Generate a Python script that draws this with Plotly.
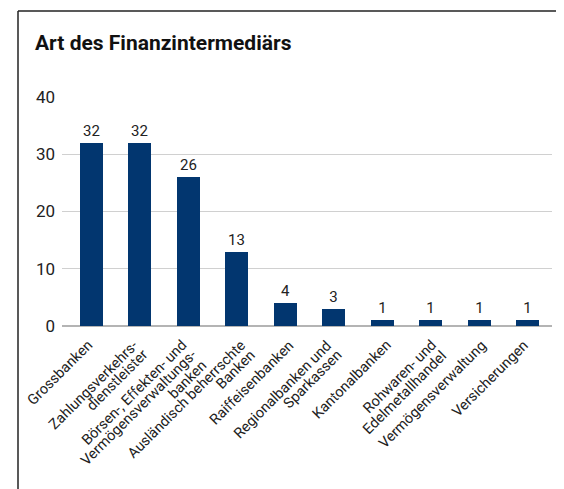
import plotly.graph_objects as go

categories = [
    "Grossbanken",
    "Zahlungsverkehrs-\ndienstleister",
    "Börsen-, Effekten- und\nVermögensverwaltungs-\nbanken",
    "Ausländisch beherrschte\nBanken",
    "Raiffeisenbanken",
    "Regionalbanken und\nSparkassen",
    "Kantonalbanken",
    "Rohwaren- und\nEdelmetallhandel",
    "Vermögensverwaltung",
    "Versicherungen",
]
values = [32, 32, 26, 13, 4, 3, 1, 1, 1, 1]
y_ticks = [0, 10, 20, 30, 40]
title_text = "Art des Finanzintermediärs"

# small horizontal nudges (px) of the rotated category labels, as in the original
label_nudge = [1, -3, -2, 8, 8, -3, 8, 5, 6, 0]

# page has an 8px body margin; figure laid out in its own coordinates
W, H = 556, 481
L, R, T, B = 54, 12, 89, 163
pw, ph = W - L - R, H - T - B

fig = go.Figure(go.Bar(
    x=list(range(len(categories))),
    y=values,
    width=0.47,
    marker=dict(color="#02366f", line=dict(width=0)),
    text=[str(v) for v in values],
    textposition="outside",
    cliponaxis=False,
    textfont=dict(family="Roboto", size=15, color="#222"),
))

annotations = [dict(
    text="<b>" + title_text + "</b>",
    xref="paper", yref="paper",
    x=(25 - L) / pw, y=(H - B - 35) / ph,
    xanchor="left", yanchor="middle",
    showarrow=False,
    font=dict(family="Roboto", size=21, color="#111"),
)]

# rotated category labels, one annotation per text line (right aligned, -45 deg)
step = 9.9
for i, cat in enumerate(categories):
    for k, line in enumerate(cat.split("\n")):
        annotations.append(dict(
            text=line,
            xref="x", yref="paper", x=i, y=0,
            xanchor="right", yanchor="top",
            xshift=7.4 + label_nudge[i] + step * k, yshift=-(8.1 + step * k),
            textangle=-45,
            showarrow=False,
            font=dict(family="Roboto", size=14.5, color="#222"),
        ))

fig.update_layout(
    width=W, height=H,
    margin=dict(l=L, r=R, t=T, b=B, pad=0),
    paper_bgcolor="white", plot_bgcolor="white",
    showlegend=False,
    bargap=0,
    font=dict(family="Roboto", color="#222"),
    xaxis=dict(
        range=[-0.6, 9.5],
        tickvals=list(range(len(categories))),
        showticklabels=False,
        showgrid=False, zeroline=False, showline=False, ticks="",
    ),
    yaxis=dict(
        range=[0, 40],
        tickvals=y_ticks,
        tickfont=dict(family="Roboto", size=17, color="#222"),
        showgrid=True, gridcolor="#d0d0d0", gridwidth=1,
        zeroline=True, zerolinecolor="#b4b4b4", zerolinewidth=1.5,
        ticks="", ticklabelstandoff=6,
    ),
    annotations=annotations,
    shapes=[
        dict(type="line", xref="paper", yref="paper",
             x0=(10 - L) / pw, x1=(W + 5 - L) / pw,
             y0=(H - B - 3) / ph, y1=(H - B - 3) / ph,
             line=dict(color="#222", width=1.5)),
        dict(type="line", xref="paper", yref="paper",
             x0=(10 - L) / pw, x1=(10 - L) / pw,
             y0=(H - B - 3) / ph, y1=(H - B - H - 5) / ph,
             line=dict(color="#222", width=1.5)),
    ],
)

fig.write_html("out.html")
